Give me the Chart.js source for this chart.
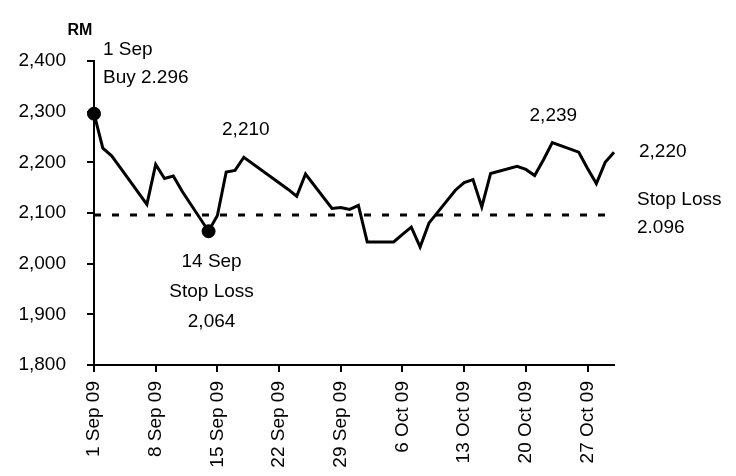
<!DOCTYPE html>
<html lang="en">
  <head>
    <meta charset="UTF-8" />
    <title>RM price chart</title>
    <script src="https://cdn.jsdelivr.net/npm/chart.js/dist/chart.umd.min.js"></script>
    <style>
      body { margin: 0; background: #fff; }
      canvas { display: block; }
    </style>
  </head>
  <body>
    <canvas id="myChart" width="736" height="476"></canvas>
    <script>
      // trading days, counted from 1 Sep 09 (day 0)
      const days = [0, 1, 2, 3, 6, 7, 8, 9, 10, 13, 14, 15, 16, 17, 22, 23, 24, 27, 28, 29, 30, 31,
                    34, 35, 36, 37, 38, 41, 42, 43, 44, 45, 48, 49, 50, 51, 52, 55, 56, 57, 58, 59];
      const prices = [2296, 2228, 2213, 2189, 2117, 2196, 2168, 2173, 2143, 2064, 2095, 2181, 2184, 2210,
                      2147, 2133, 2177, 2109, 2111, 2107, 2115, 2043, 2043, 2058, 2072, 2033, 2080, 2145,
                      2160, 2166, 2112, 2178, 2192, 2186, 2174, 2205, 2239, 2220, 2188, 2158, 2200, 2220];

      const tickDays = [0, 7, 14, 21, 28, 35, 42, 49, 56];
      const tickLabels = ['1 Sep 09', '8 Sep 09', '15 Sep 09', '22 Sep 09', '29 Sep 09',
                          '6 Oct 09', '13 Oct 09', '20 Oct 09', '27 Oct 09'];

      // buy point and stop-loss hit
      const markerDays = [0, 13];
      const markerPrices = [2296, 2064];
      const stopLoss = 2096;

      const font = '"Liberation Sans", Arial, sans-serif';
      Chart.defaults.font.family = font;
      Chart.defaults.font.size = 19;
      Chart.defaults.color = '#000';

      const lastDay = days[days.length - 1];

      // text notes, anchored on a data value, shifted in pixels
      const notes = [
        { text: '1 Sep', x: 0, y: 2296, dx: 9, dy: -64, align: 'left' },
        { text: 'Buy 2.296', x: 0, y: 2296, dx: 9, dy: -36, align: 'left' },
        { text: '2,210', x: 17, y: 2210, dx: 2, dy: -28, align: 'center' },
        { text: '14 Sep', x: 13, y: 2064, dx: 3, dy: 31, align: 'center' },
        { text: 'Stop Loss', x: 13, y: 2064, dx: 3, dy: 61, align: 'center' },
        { text: '2,064', x: 13, y: 2064, dx: 3, dy: 91, align: 'center' },
        { text: '2,239', x: 52, y: 2239, dx: 1, dy: -27, align: 'center' },
        { text: '2,220', x: 59, y: 2220, dx: 25, dy: 0, align: 'left' },
        { text: 'Stop Loss', x: 59, y: stopLoss, dx: 23, dy: -15, align: 'left' },
        { text: '2.096', x: 59, y: stopLoss, dx: 23, dy: 13, align: 'left' }
      ];

      const notesPlugin = {
        id: 'notes',
        afterDraw(chart) {
          const ctx = chart.ctx;
          const xs = chart.scales.x, ys = chart.scales.y;
          ctx.save();
          ctx.fillStyle = '#000';
          ctx.textBaseline = 'middle';
          ctx.font = '19px ' + font;
          notes.forEach(n => {
            ctx.textAlign = n.align;
            ctx.fillText(n.text, xs.getPixelForValue(n.x) + n.dx, ys.getPixelForValue(n.y) + n.dy);
          });
          // unit label above the y axis
          ctx.font = 'bold 16px ' + font;
          ctx.textAlign = 'center';
          ctx.fillText('RM', chart.chartArea.left - 14, 31);
          ctx.restore();
        }
      };

      const axisGrid = { drawOnChartArea: false, color: '#000', lineWidth: 2, tickLength: 7 };
      const axisBorder = { color: '#000', width: 2 };

      const myChart = new Chart(document.getElementById('myChart'), {
        type: 'line',
        data: {
          datasets: [
            {
              label: 'Price',
              data: days.map((d, i) => ({ x: d, y: prices[i] })),
              borderColor: '#000',
              borderWidth: 3,
              pointRadius: 0,
              tension: 0,
              clip: false
            },
            {
              label: 'Stop loss',
              data: [{ x: days[0], y: stopLoss }, { x: lastDay, y: stopLoss }],
              borderColor: '#000',
              borderWidth: 3,
              borderDash: [7, 11],
              pointRadius: 0,
              clip: false
            },
            {
              label: 'Marks',
              data: markerDays.map((d, i) => ({ x: d, y: markerPrices[i] })),
              showLine: false,
              pointRadius: 6.5,
              pointBackgroundColor: '#000',
              pointBorderColor: '#000',
              clip: false
            }
          ]
        },
        options: {
          responsive: false,
          animation: false,
          devicePixelRatio: 1,
          layout: { padding: { top: 61, right: 122, bottom: 0, left: 0 } },
          plugins: { legend: { display: false }, tooltip: { enabled: false } },
          scales: {
            x: {
              type: 'linear',
              min: days[0],
              max: lastDay,
              afterBuildTicks: s => { s.ticks = tickDays.map(v => ({ value: v })); },
              afterFit: s => { s.height = 111; },
              grid: axisGrid,
              border: axisBorder,
              ticks: {
                autoSkip: false,
                minRotation: 90,
                maxRotation: 90,
                padding: 9,
                callback: (v, i) => tickLabels[i]
              }
            },
            y: {
              min: 1800,
              max: 2400,
              afterFit: s => { s.width = 94; },
              grid: axisGrid,
              border: axisBorder,
              ticks: {
                stepSize: 100,
                padding: 21,
                callback: v => v.toLocaleString('en-US')
              }
            }
          }
        },
        plugins: [notesPlugin]
      });
    </script>
  </body>
</html>
